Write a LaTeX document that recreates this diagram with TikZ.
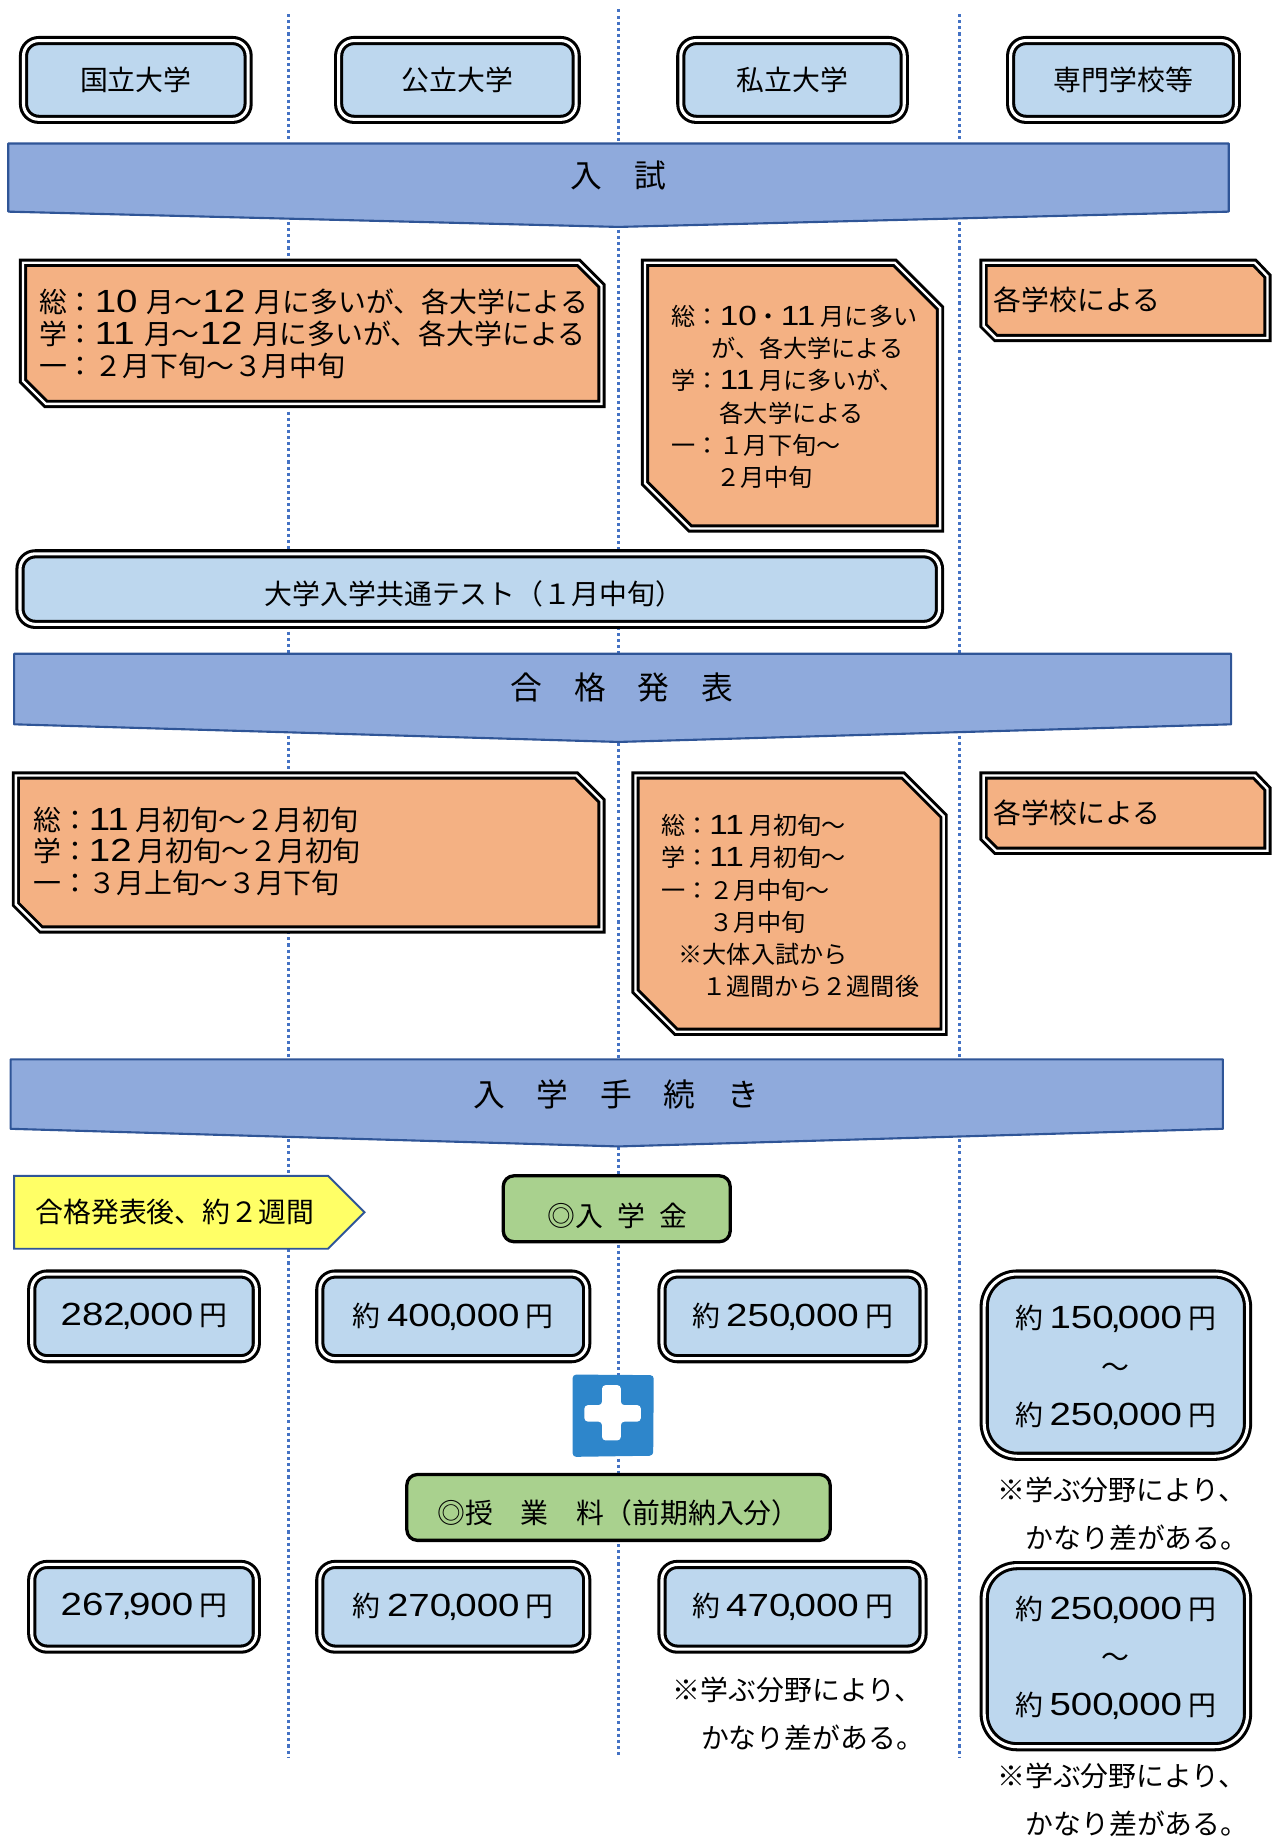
\documentclass[tikz,border=0pt]{standalone}
\usepackage{fontspec}
\setmainfont{Noto Sans CJK JP}
\newfontfamily\digitfont[Scale=1.15,FakeStretch=1.2]{Liberation Sans}
\newcommand{\nm}[1]{{\digitfont #1}}
\newcommand{\cma}{\kern-3pt,\kern-2.5pt}
\definecolor{skyfill}{HTML}{BDD7EE}
\definecolor{bandfill}{HTML}{8FAADC}
\definecolor{bandline}{HTML}{2F5597}
\definecolor{snipfill}{HTML}{F4B183}
\definecolor{leaffill}{HTML}{A9D18E}
\definecolor{guideline}{HTML}{4472C4}
\definecolor{plusfill}{HTML}{2E86CB}
\definecolor{termfill}{HTML}{FFFF66}
\tikzset{
  big/.style={font=\fontsize{23.7}{27}\selectfont},
  mid/.style={font=\fontsize{20.5}{27.3}\selectfont},
  tall/.style={font=\fontsize{23.7}{41}\selectfont},
  band/.style={fill=bandfill, draw=bandline, line width=1.8pt, line join=round},
  snip/.style={fill=snipfill, draw=black, double=white, line width=2.5pt, double distance=2pt, line join=miter},
  pill/.style={fill=skyfill, draw=black, double=white, line width=2.6pt, double distance=2.6pt, rounded corners=13pt},
  pillbig/.style={pill, rounded corners=28pt},
  leaf/.style={fill=leaffill, draw=black, line width=2.8pt, rounded corners=9pt},
  guide/.style={draw=guideline, line width=2.6pt, dash pattern=on 2.6pt off 2.6pt},
  word/.style={big, inner sep=0pt, align=left}
}
\begin{document}
\begin{tikzpicture}[x=1pt, y=-1pt]
\useasboundingbox (0,0) rectangle (1081,1567.4);
\foreach \gx/\gy in {245/12, 526/8, 816/12}
  \draw[guide] (\gx,\gy)--(\gx,1495);

% schools
\node[pill, big, minimum width=191pt, minimum height=67pt] (kokuritsu) at (115.5,68) {国立大学};
\node[pill, big, minimum width=202pt, minimum height=67pt] (koritsu) at (389,68) {公立大学};
\node[pill, big, minimum width=190pt, minimum height=67pt] (shiritsu) at (674,68) {私立大学};
\node[pill, big, minimum width=192pt, minimum height=67pt] (senmon) at (955.5,68) {専門学校等};

% entrance exam
\draw[band] (7,122)--(1045,122)--(1045,180)--(526,193)--(7,180)--cycle;
\node[font=\fontsize{27}{30}\selectfont] (nyushi) at (526,149) {入　試};
\draw[snip] (19.5,223.5)--(492,223.5)--(511.5,243)--(511.5,343.5)--(39,343.5)--(19.5,324)--cycle;
\node[word, anchor=west] (examnat) at (33,284) {総：\nm{10}\hspace{8pt}月〜\nm{12}\hspace{8pt}月に多いが、各大学による\\学：\nm{11}\hspace{8pt}月〜\nm{12}\hspace{8pt}月に多いが、各大学による\\一：２月下旬〜３月中旬};
\draw[snip] (548.5,223.5)--(761,223.5)--(799.5,262)--(799.5,449.5)--(587,449.5)--(548.5,411)--cycle;
\node[word, mid, anchor=west] (exampriv) at (571,337.5) {総：\nm{10}・\nm{11} 月に多い\\\hspace*{34pt}が、各大学による\\学：\nm{11} 月に多いが、\\\hspace*{41pt}各大学による\\一：１月下旬〜\\\hspace*{38pt}２月中旬};
\draw[snip] (836.5,223.5)--(1067,223.5)--(1078,235)--(1078,287.5)--(847,287.5)--(836.5,277)--cycle;
\node[word, anchor=west] (examsch) at (845,255) {各学校による};
\node[pill, minimum width=782pt, minimum height=60pt] (kyotsu) at (408,501) {};
\node[word] (kyotsutext) at (403,505) {大学入学共通テスト（１月中旬）};

% results
\draw[band] (12,556)--(1047,556)--(1047,616)--(526,631)--(12,616)--cycle;
\node[font=\fontsize{27}{30}\selectfont] (gokaku) at (529,584.5) {合　格　発　表};
\draw[snip] (13.5,659.5)--(490,659.5)--(511.5,681)--(511.5,790.5)--(35,790.5)--(13.5,769)--cycle;
\node[word, anchor=west] (passnat) at (28,724) {総：\nm{11} 月初旬〜２月初旬\\学：\nm{12} 月初旬〜２月初旬\\一：３月上旬〜３月下旬};
\draw[snip] (540.5,659.5)--(768,659.5)--(802.5,694)--(802.5,877.5)--(575,877.5)--(540.5,843)--cycle;
\node[word, mid, anchor=west] (passpriv) at (562,770.5) {総：\nm{11} 月初旬〜\\学：\nm{11} 月初旬〜\\一：２月中旬〜\\\hspace*{41pt}３月中旬\\\hspace*{15pt}※大体入試から\\\hspace*{35pt}１週間から２週間後};
\draw[snip] (836.5,659.5)--(1067,659.5)--(1078,671)--(1078,723.5)--(847,723.5)--(836.5,713)--cycle;
\node[word, anchor=west] (passsch) at (845,691) {各学校による};

% procedure
\draw[band] (9,901)--(1040,901)--(1040,960)--(526,975)--(9,960)--cycle;
\node[font=\fontsize{27}{30}\selectfont] (tetsuzuki) at (524,931) {入　学　手　続　き};
\draw[fill=termfill, draw=bandline, line width=1.6pt] (12,1000)--(279,1000)--(310,1031)--(279,1062)--(12,1062)--cycle;
\node[word, anchor=west] (term) at (30,1031) {合格発表後、約２週間};
\node[leaf, minimum width=193pt, minimum height=56pt] (nyugaku) at (524.5,1028) {};
\node[word] (nyugakutext) at (525,1034) {◎入\hspace{12pt}学\hspace{12pt}金};

\node[pill, big, minimum width=191pt, minimum height=72pt] (feea) at (122.5,1119.5) {\nm{282\cma 000} 円};
\node[pill, big, minimum width=227pt, minimum height=72pt] (feeb) at (385.5,1119.5) {約 \nm{400\cma 000} 円};
\node[pill, big, minimum width=222pt, minimum height=72pt] (feec) at (674,1119.5) {約 \nm{250\cma 000} 円};
\node[pillbig, minimum width=224pt, minimum height=155pt] (feed) at (949,1161) {};
\node[word, tall, align=center] (feedtext) at (949,1163) {約 \nm{150\cma 000} 円\\〜\\約 \nm{250\cma 000} 円};
\node[word, tall, anchor=west] (noted) at (848,1287.5) {※学ぶ分野により、\\\hspace*{24pt}かなり差がある。};

% plus mark
\draw[fill=plusfill, draw=none, rounded corners=3pt] (487,1169)--(556,1169.5)--(555.5,1238)--(487,1239)--cycle;
\fill[white, rounded corners=3pt] (512,1178)--(528,1178)--(528,1195)--(545,1195)--(545,1209)--(528,1209)--(528,1225)--(512,1225)--(512,1209)--(497,1209)--(497,1195)--(512,1195)--cycle;

\node[leaf, minimum width=360pt, minimum height=56pt] (jugyo) at (526,1282) {};
\node[word] (jugyotext) at (526,1287) {◎授　業　料（前期納入分）};
\node[pill, big, minimum width=191pt, minimum height=72pt] (tuia) at (122.5,1366.5) {\nm{267\cma 900} 円};
\node[pill, big, minimum width=227pt, minimum height=72pt] (tuib) at (385.5,1366.5) {約 \nm{270\cma 000} 円};
\node[pill, big, minimum width=222pt, minimum height=72pt] (tuic) at (674,1366.5) {約 \nm{470\cma 000} 円};
\node[word, tall, anchor=west] (notec) at (572,1457.5) {※学ぶ分野により、\\\hspace*{24pt}かなり差がある。};
\node[pillbig, minimum width=224pt, minimum height=154pt] (tuid) at (949,1408.5) {};
\node[word, tall, align=center] (tuidtext) at (949,1410) {約 \nm{250\cma 000} 円\\〜\\約 \nm{500\cma 000} 円};
\node[word, tall, anchor=west] (notee) at (848,1530.5) {※学ぶ分野により、\\\hspace*{24pt}かなり差がある。};
\end{tikzpicture}
\end{document}
